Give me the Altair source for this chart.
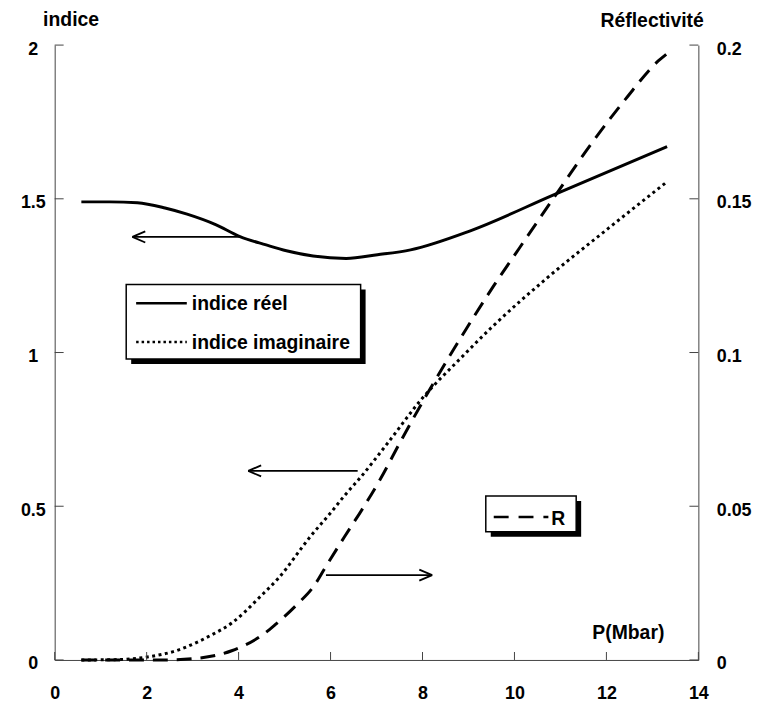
import altair as alt
import pandas as pd

# ---------------- data ----------------
P_reel = [0.58, 1.2, 1.8, 2.4, 2.88, 3.5, 4.03, 4.6, 5.04, 5.62, 6.34, 7.02, 7.74, 9.04, 10.84, 13.32]
n_reel = [1.490, 1.490, 1.487, 1.470, 1.450, 1.416, 1.377, 1.350, 1.331, 1.314, 1.306, 1.318, 1.334, 1.396, 1.512, 1.670]

P_imag = [0.58, 1.3, 1.98, 2.70, 3.13, 3.42, 3.85, 4.14, 4.43, 4.86, 5.58, 6.01, 6.30, 6.63, 7.24, 8.0, 8.82, 9.54, 10.69, 12.06, 13.29]
n_imag = [0.0, 0.001, 0.009, 0.033, 0.060, 0.082, 0.120, 0.157, 0.200, 0.265, 0.405, 0.480, 0.534, 0.590, 0.705, 0.852, 0.980, 1.087, 1.240, 1.406, 1.552]

P_R = [0.58, 2.34, 3.13, 3.85, 4.57, 4.79, 5.26, 5.65, 5.87, 6.30, 6.73, 7.09, 7.52, 8.10, 8.82, 9.54, 10.04, 10.84, 11.70, 12.42, 13.14, 13.30]
R_vals = [0.0, 0.0, 0.0006, 0.003, 0.0087, 0.0114, 0.0179, 0.0243, 0.0297, 0.040, 0.050, 0.059, 0.071, 0.0865, 0.1045, 0.1215, 0.1325, 0.150, 0.1685, 0.1825, 0.195, 0.197]

x_ticks = [0, 2, 4, 6, 8, 10, 12, 14]
left_ticks = [0, 0.5, 1, 1.5, 2]
right_ticks = [0, 0.05, 0.1, 0.15, 0.2]

# annotation arrows (tail x, tip x, y) in data units (Mbar, indice)
arrow_tail = [4.03, 6.59, 5.90]
arrow_tip = [1.69, 4.21, 8.21]
arrow_y = [1.376, 0.615, 0.276]
head_len = 0.28
head_half = 0.018

# ---------------- styling ----------------
W, H = 648, 619
FONT = "Liberation Sans"
FS = 18      # tick labels
FT = 19.5    # titles and legend text
AX = "#444444"

xs = alt.Scale(domain=[0, 14], nice=False, zero=False)
ys_l = alt.Scale(domain=[0, 2], nice=False)
ys_r = alt.Scale(domain=[0, 0.2], nice=False)

df_reel = pd.DataFrame({"P": P_reel, "v": n_reel})
df_imag = pd.DataFrame({"P": P_imag, "v": n_imag})
df_R = pd.DataFrame({"P": P_R, "v": R_vals})

x_axis = alt.Axis(values=x_ticks, format="~g", ticks=False, grid=False,
                  domainColor=AX, domainWidth=1,
                  labelFont=FONT, labelFontSize=FS, labelFontWeight="bold", labelColor="black",
                  labelPadding=34, labelBaseline="middle", labelFlush=False, labelOverlap=False,
                  title="P(Mbar)", titleFont=FONT, titleFontSize=FT, titleFontWeight="bold",
                  titleColor="black", titleAngle=0, titleAlign="center", titleBaseline="middle",
                  titleX=577, titleY=-28)

left_axis = alt.Axis(values=left_ticks, format="~g", ticks=False, grid=False,
                     domainColor=AX, domainWidth=1,
                     labelFont=FONT, labelFontSize=FS, labelFontWeight="bold", labelColor="black",
                     labelAlign="center", labelBaseline="middle", labelPadding=22, labelOffset=4,
                     labelOverlap=False,
                     title="indice", titleFont=FONT, titleFontSize=FT, titleFontWeight="bold",
                     titleColor="black", titleAngle=0, titleAlign="center", titleBaseline="middle",
                     titleX=16, titleY=-26)

right_axis = alt.Axis(orient="right", values=right_ticks, format="~g", ticks=False, grid=False,
                      domainColor=AX, domainWidth=1,
                      labelFont=FONT, labelFontSize=FS, labelFontWeight="bold", labelColor="black",
                      labelAlign="left", labelBaseline="middle", labelPadding=18, labelOffset=4,
                      labelOverlap=False,
                      title="Réflectivité", titleFont=FONT, titleFontSize=FT, titleFontWeight="bold",
                      titleColor="black", titleAngle=0, titleAlign="center", titleBaseline="middle",
                      titleX=-47, titleY=-25)

real_line = alt.Chart(df_reel).mark_line(color="black", strokeWidth=3, interpolate="monotone").encode(
    x=alt.X("P:Q", scale=xs, axis=x_axis),
    y=alt.Y("v:Q", scale=ys_l, axis=left_axis),
)
imag_line = alt.Chart(df_imag).mark_line(color="black", strokeWidth=3, strokeDash=[3, 3.5],
                                         interpolate="monotone").encode(
    x=alt.X("P:Q", scale=xs, axis=x_axis),
    y=alt.Y("v:Q", scale=ys_l, axis=left_axis),
)

# inward tick marks
xt = alt.Chart(pd.DataFrame({"t": x_ticks})).mark_rule(color=AX, strokeWidth=1).encode(
    x=alt.X("t:Q", scale=xs, axis=x_axis), y=alt.value(H), y2=alt.value(H - 8))
lt = alt.Chart(pd.DataFrame({"t": left_ticks})).mark_rule(color=AX, strokeWidth=1).encode(
    y=alt.Y("t:Q", scale=ys_l, axis=left_axis), x=alt.value(0), x2=alt.value(9))

# arrows
df_arrow = pd.DataFrame({"x": arrow_tail, "x2": arrow_tip, "y": arrow_y})
heads = []
for a, b, yy in zip(arrow_tail, arrow_tip, arrow_y):
    d = 1 if b > a else -1
    heads.append({"x": b, "x2": b - d * head_len, "y": yy, "y2": yy + head_half})
    heads.append({"x": b, "x2": b - d * head_len, "y": yy, "y2": yy - head_half})
df_heads = pd.DataFrame(heads)

arrows = alt.Chart(df_arrow).mark_rule(color="black", strokeWidth=1.8).encode(
    x=alt.X("x:Q", scale=xs, axis=x_axis), x2="x2:Q",
    y=alt.Y("y:Q", scale=ys_l, axis=left_axis))
arrow_heads = alt.Chart(df_heads).mark_rule(color="black", strokeWidth=1.8).encode(
    x=alt.X("x:Q", scale=xs, axis=x_axis), x2="x2:Q",
    y=alt.Y("y:Q", scale=ys_l, axis=left_axis), y2="y2:Q")

# legend boxes (drawn like the reference, with a drop shadow)
one = pd.DataFrame({"k": [0]})
SH = 5


def box(x0, y0, x1, y1):
    shadow = alt.Chart(one).mark_rect(color="black").encode(
        x=alt.value(x0 + SH), x2=alt.value(x1 + SH), y=alt.value(y0 + SH), y2=alt.value(y1 + SH))
    face = alt.Chart(one).mark_rect(fill="white", stroke="black", strokeWidth=1.5).encode(
        x=alt.value(x0), x2=alt.value(x1), y=alt.value(y0), y2=alt.value(y1))
    return [shadow, face]


def sample(x0, x1, y, dash=None):
    kw = {"color": "black", "strokeWidth": 2.5}
    if dash:
        kw["strokeDash"] = dash
    return alt.Chart(one).mark_rule(**kw).encode(x=alt.value(x0), x2=alt.value(x1), y=alt.value(y))


def label(x, y, txt):
    return alt.Chart(one).mark_text(align="left", baseline="middle", font=FONT, fontSize=FT,
                                    fontWeight="bold", color="black").encode(
        x=alt.value(x), y=alt.value(y), text=alt.value(txt))


legend1 = box(72, 241, 308, 316) + [
    sample(82, 133, 260),
    label(138, 261, "indice réel"),
    sample(82, 133, 299, [2.5, 3]),
    label(138, 300, "indice imaginaire"),
]
legend2 = box(434, 454, 525, 490) + [
    sample(442, 497, 475, [15, 10]),
    label(500, 477, "R"),
]

left = alt.layer(real_line, imag_line, xt, lt, arrows, arrow_heads, *legend1)

R_line = alt.Chart(df_R).mark_line(color="black", strokeWidth=3, strokeDash=[15, 9],
                                   interpolate="monotone").encode(
    x=alt.X("P:Q", scale=xs, axis=x_axis),
    y=alt.Y("v:Q", scale=ys_r, axis=right_axis),
)
rt = alt.Chart(pd.DataFrame({"t": right_ticks})).mark_rule(color=AX, strokeWidth=1).encode(
    y=alt.Y("t:Q", scale=ys_r, axis=right_axis), x=alt.value(W - 9), x2=alt.value(W))

right = alt.layer(R_line, rt, *legend2)

chart = alt.layer(left, right).resolve_scale(y="independent").properties(
    width=W, height=H,
    autosize=alt.AutoSizeParams(type="none"),
    padding={"left": 47, "top": 35, "right": 55, "bottom": 42},
    background="white",
).configure_view(strokeWidth=0)

chart.save("out.html", embed_options={"renderer": "svg", "actions": False})
